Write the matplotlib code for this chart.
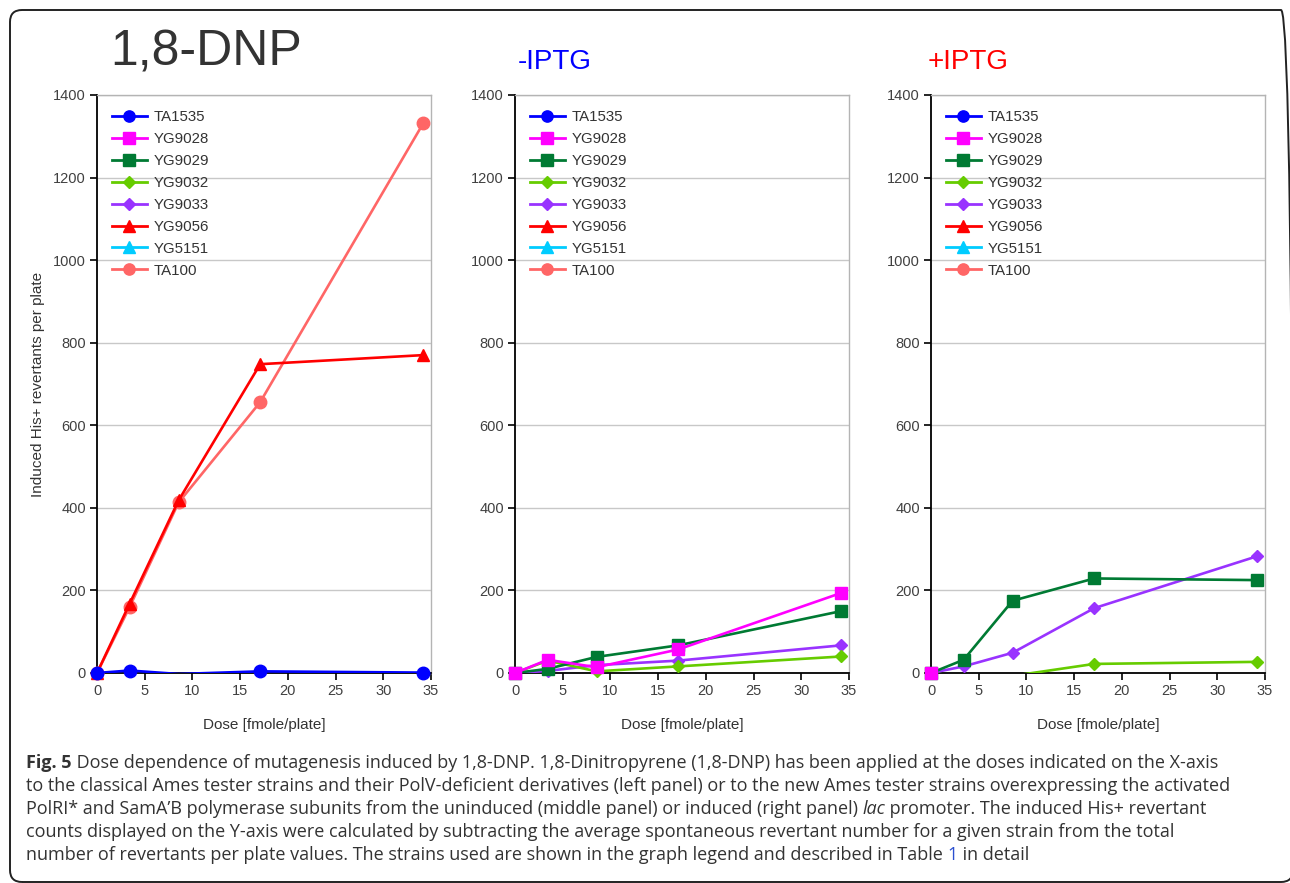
import numpy as np
import matplotlib
matplotlib.use('Agg')
import matplotlib.pyplot as plt
from matplotlib.lines import Line2D
from matplotlib.patches import FancyBboxPatch
from matplotlib.text import Annotation

plt.rcParams['font.family'] = ['Liberation Sans', 'DejaVu Sans']

# doses in fmole/plate
dose = [0, 3.42, 8.55, 17.1, 34.2]

strains = ['TA1535', 'YG9028', 'YG9029', 'YG9032', 'YG9033', 'YG9056', 'YG5151', 'TA100']
colors = ['#0000ff', '#ff00ff', '#007a33', '#66cc00', '#9933ff', '#ff0000', '#00ccff', '#ff6666']
markers = ['o', 's', 's', 'D', 'D', '^', '^', 'o']
msizes = [9, 9, 9, 6.5, 6.5, 9, 9, 9]

# classical strains
left_TA1535 = [0, 6, -2.4, 4, 1]
left_YG9056 = [0, 168, 418, 748, 770]
left_TA100 = [0, 160, 413, 656, 1332]

# -IPTG
mid_YG9028 = [0, 32, 14, 57, 194]
mid_YG9029 = [0, 10, 39, 67, 150]
mid_YG9032 = [0, 30, 4, 16, 40]
mid_YG9033 = [0, 5, 19, 30, 67]

# +IPTG
right_YG9028 = [0, np.nan, np.nan, np.nan, np.nan]
right_YG9029 = [0, 32, 175, 229, 225]
right_YG9032 = [0, -10, -7, 22, 27]
right_YG9033 = [0, 16, 49, 157, 283]

panels = [
    {'TA1535': left_TA1535, 'YG9056': left_YG9056, 'TA100': left_TA100},
    {'YG9028': mid_YG9028, 'YG9029': mid_YG9029, 'YG9032': mid_YG9032, 'YG9033': mid_YG9033},
    {'YG9028': right_YG9028, 'YG9029': right_YG9029, 'YG9032': right_YG9032, 'YG9033': right_YG9033},
]
panel_left = [97, 515, 931]

W, H = 1290, 883
fig = plt.figure(figsize=(W / 100, H / 100), dpi=100)

# rounded frame around the whole figure
frame = FancyBboxPatch((0.10, 0.01), 12.83, 8.72, boxstyle='round,pad=0,rounding_size=0.12',
                       transform=fig.dpi_scale_trans, facecolor='none', edgecolor='#222222',
                       linewidth=1.4, clip_on=False)
fig.patches.append(frame)

handles = [Line2D([], [], color=c, lw=2, marker=m, ms=s * 0.9, mec=c, mfc=c)
           for c, m, s in zip(colors, markers, msizes)]

for i, data in enumerate(panels):
    ax = fig.add_axes([panel_left[i] / W, 1 - 673 / H, 334 / W, 578 / H])
    ax.set_xlim(0, 35)
    ax.set_ylim(0, 1400)
    ax.set_xticks(np.arange(0, 36, 5))
    ax.set_yticks(np.arange(0, 1401, 200))
    ax.yaxis.grid(True, color='#c8c8c8', lw=1)
    ax.set_axisbelow(True)
    for side in ['top', 'right']:
        ax.spines[side].set_color('#b4b4b4')
        ax.spines[side].set_linewidth(1)
    for side in ['left', 'bottom']:
        ax.spines[side].set_color('black')
        ax.spines[side].set_linewidth(1.3)
    ax.tick_params(direction='out', length=5, width=1.2, labelsize=10.5,
                   labelcolor='#404040', pad=3)

    # later strains underneath, first strains on top
    for k in range(len(strains) - 1, -1, -1):
        name = strains[k]
        if name not in data:
            continue
        y = np.array(data[name], dtype=float)
        ax.plot(dose, y, color=colors[k], lw=1.9, zorder=3 + (8 - k) * 0.1)
        ok = y >= 0
        ax.plot(np.array(dose)[ok], y[ok], ls='none', marker=markers[k], ms=msizes[k],
                color=colors[k], clip_on=False, zorder=3.05 + (8 - k) * 0.1)

    ax.set_xlabel('Dose [fmole/plate]', fontsize=11, color='#333333', labelpad=14)
    if i == 0:
        ax.set_ylabel('Induced His+ revertants per plate', fontsize=11, color='#333333',
                      labelpad=6)
    ax.legend(handles, strains, loc='upper left', bbox_to_anchor=(0.045, 0.974),
              frameon=False, fontsize=10.8, handlelength=2.3, handletextpad=0.45,
              labelspacing=0.53, borderaxespad=0, borderpad=0, labelcolor='#333333')

fig.text(110 / W, 1 - 65 / H, '1,8-DNP', fontsize=36, color='#333333', va='baseline')
fig.text(518 / W, 1 - 69 / H, '-IPTG', fontsize=20, color='#0000ff', va='baseline')
fig.text(928 / W, 1 - 69 / H, '+IPTG', fontsize=20, color='#ff0000', va='baseline')

# figure caption, one text run per style change
cap_font = dict(family=['Open Sans', 'DejaVu Sans'], fontsize=13.0, color='#333333')
cap_lines = [
    [('Fig. 5', 'bold'), (' Dose dependence of mutagenesis induced by 1,8-DNP. 1,8-Dinitropyrene '
                          '(1,8-DNP) has been applied at the doses indicated on the X-axis', '')],
    [('to the classical Ames tester strains and their PolV-deficient derivatives (left panel) or '
      'to the new Ames tester strains overexpressing the activated', '')],
    [('PolRI* and SamA\u2019B polymerase subunits from the uninduced (middle panel) or induced '
      '(right panel) ', ''), ('lac', 'italic'), (' promoter. The induced His+ revertant', '')],
    [('counts displayed on the Y-axis were calculated by subtracting the average spontaneous '
      'revertant number for a given strain from the total', '')],
    [('number of revertants per plate values. The strains used are shown in the graph legend '
      'and described in Table ', ''), ('1', 'link'), (' in detail', '')],
]
cap_base = [768, 791, 814, 837, 860]


def run_style(kind):
    st = dict(cap_font)
    if kind == 'bold':
        st['fontweight'] = 'bold'
    elif kind == 'italic':
        st['fontstyle'] = 'italic'
    elif kind == 'link':
        st['color'] = '#2a4fd0'
    return st


for parts, yb in zip(cap_lines, cap_base):
    yf = 1 - yb / H
    prev = fig.text(26 / W, yf, parts[0][0], va='baseline', ha='left', **run_style(parts[0][1]))
    for s, kind in parts[1:]:
        ann = Annotation(s, xy=(1, yf), xycoords=(prev, 'figure fraction'), va='baseline',
                         ha='left', **run_style(kind))
        fig.add_artist(ann)
        prev = ann

fig.savefig('out.png', dpi=100, facecolor='white')
